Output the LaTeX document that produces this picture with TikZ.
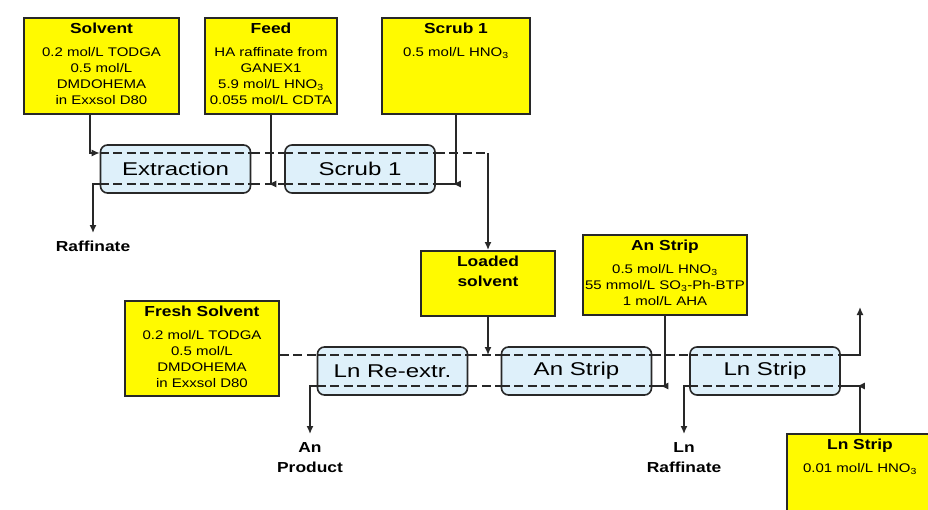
\documentclass[tikz,border=0pt]{standalone}
\usepackage{fontspec}
\setmainfont{Liberation Sans}[FakeStretch=1.2]
\newfontfamily\stagefont{Liberation Sans}[FakeStretch=1.3]
\usepackage{tikz}
\usetikzlibrary{arrows.meta,positioning,calc}
\definecolor{boxyellow}{RGB}{255,250,0}
\definecolor{stageblue}{RGB}{222,240,250}
\definecolor{linegray}{RGB}{40,40,40}
\newcommand{\boxhead}{\bfseries\fontsize{14.5}{20}\selectfont}
\newcommand{\boxbody}{\fontsize{12.5}{16}\selectfont}
\newcommand{\boxtext}[4]{\parbox[t][#2][t]{#1}{\centering
  {\boxhead\rule{0pt}{16pt}#3\par}\vspace{7pt}{\boxbody #4\par}}}

\begin{document}
\begin{tikzpicture}[x=1pt,y=-1pt,
        feedbox/.style={draw=linegray, line width=1.5pt, fill=boxyellow, inner sep=0pt, anchor=north},
        stage/.style={draw=linegray, line width=1.6pt, rounded corners=7pt, fill=stageblue,
          minimum width=150pt, minimum height=48pt, font=\stagefont\fontsize{18.5}{20}\selectfont},
        flow/.style={draw=linegray, line width=1.4pt, dash pattern=on 9pt off 4.5pt},
        link/.style={draw=linegray, line width=1.4pt},
        feedline/.style={draw=linegray, line width=1.4pt, -{Latex[length=8pt,width=7pt]}},
        outlabel/.style={font=\bfseries\fontsize{14.5}{20}\selectfont, align=center, anchor=north, inner sep=1pt}]
  \useasboundingbox (0,0) rectangle (928,509);

  % feed boxes
  \node[feedbox] (solv) at (101.5,17) {\boxtext{155pt}{96pt}{Solvent}{0.2 mol/L TODGA\\0.5 mol/L\\DMDOHEMA\\in Exxsol D80}};
  \node[feedbox] (feed) at (271,17) {\boxtext{132pt}{96pt}{Feed}{HA raffinate from\\GANEX1\\5.9 mol/L HNO\textsubscript{3}\\0.055 mol/L CDTA}};
  \node[feedbox] (scrub) at (456,17) {\boxtext{148pt}{96pt}{Scrub 1}{0.5 mol/L HNO\textsubscript{3}}};
  \node[feedbox] (loaded) at (488,250) {\boxtext{134pt}{65pt}{Loaded\\solvent}{}};
  \node[feedbox] (fresh) at (202,300) {\boxtext{154pt}{95pt}{Fresh Solvent}{0.2 mol/L TODGA\\0.5 mol/L\\DMDOHEMA\\in Exxsol D80}};
  \node[feedbox] (anstrip) at (665,234) {\boxtext{164pt}{80pt}{An Strip}{0.5 mol/L HNO\textsubscript{3}\\55 mmol/L SO\textsubscript{3}-Ph-BTP\\1 mol/L AHA}};
  \node[feedbox] (lnstrip) at (860,433) {\boxtext{146pt}{90pt}{Ln Strip}{0.01 mol/L HNO\textsubscript{3}}};

  % contactor stages
  \node[stage] (extr) at (175.5,169) {Extraction};
  \node[stage] (scr) at (360,169) {Scrub 1};
  \node[stage] (lnre) at (392.5,371) {Ln Re-extr.};
  \node[stage] (anst) at (576.5,371) {An Strip};
  \node[stage] (lnst) at (765,371) {Ln Strip};

  \foreach \s in {extr,scr,lnre,anst,lnst}{
    \coordinate (\s-tw) at ([yshift=16pt]\s.west);
    \coordinate (\s-te) at ([yshift=16pt]\s.east);
    \coordinate (\s-bw) at ([yshift=-15pt]\s.west);
    \coordinate (\s-be) at ([yshift=-15pt]\s.east);
    \draw[flow] (\s-tw) -- (\s-te) (\s-bw) -- (\s-be);
  }

  % products
  \node[outlabel] (raff) at (93,240) {Raffinate};
  \node[outlabel] (anprod) at (310,441) {An\\Product};
  \node[outlabel] (lnraff) at (684,441) {Ln\\Raffinate};
  \coordinate (lnout) at (860,307);

  % upper row
  \draw[flow] (extr-te) -- (scr-tw) (extr-be) -- (scr-bw);
  \draw[flow] (scr-te) -- (scr-te -| loaded.north);
  \draw[feedline] (scr-te -| loaded.north) -- (loaded.north);
  \draw[feedline] ([xshift=-11.5pt]solv.south) |- (extr-tw);
  \draw[feedline, shorten >=17pt] (feed.south) |- (extr-be);
  \draw[feedline, shorten >=17pt] (scrub.south) |- (scr-be);
  \draw[link] (scr-be) -- (scr-be -| scrub.south);
  \draw[feedline] (extr-bw) -| ([yshift=7pt]raff.north);

  % lower row
  \draw[flow] (fresh.east |- lnre-tw) -- (lnre-tw);
  \draw[flow] (lnre-te) -- (anst-tw) (lnre-be) -- (anst-bw) (anst-te) -- (lnst-tw);
  \draw[feedline] (loaded.south) -- (loaded.south |- lnre-tw);
  \draw[feedline, shorten >=8pt] (anstrip.south) |- (anst-be);
  \draw[link] (anst-be) -- (anst-be -| anstrip.south);
  \draw[feedline, shorten >=16pt] (lnstrip.north) |- (lnst-be);
  \draw[link] (lnst-be) -- (lnst-be -| lnstrip.north);
  \draw[feedline] (lnst-te) -| (lnout);
  \draw[feedline] (lnre-bw) -| ([yshift=7pt]anprod.north);
  \draw[feedline] (lnst-bw) -| ([yshift=7pt]lnraff.north);
\end{tikzpicture}
\end{document}
